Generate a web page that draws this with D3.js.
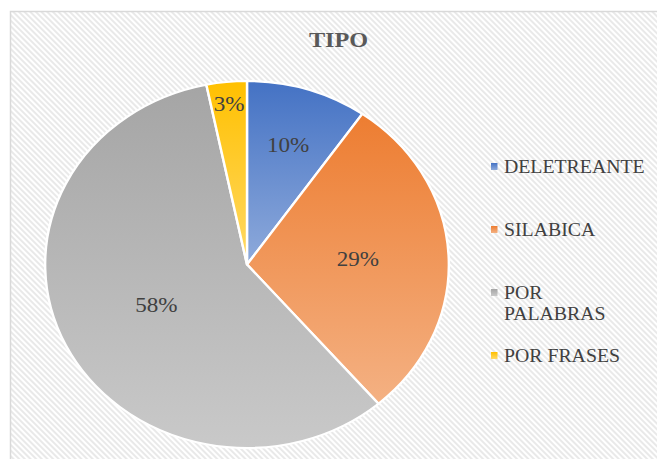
<!DOCTYPE html>
<html>
<head>
<meta charset="utf-8">
<script src="https://cdn.jsdelivr.net/npm/d3@7"></script>
<style>
  body { margin: 0; background: #fff; }
  svg { display: block; }
  text { font-family: "Liberation Serif", "Tinos", "Times New Roman", "DejaVu Serif", serif; }
</style>
</head>
<body>
<div id="chart"></div>
<script>
'use strict';

/**** DATA ****/
var chartTitle = "TIPO";
var categories = ["DELETREANTE", "SILABICA", "POR PALABRAS", "POR FRASES"];
var legendLines = [["DELETREANTE"], ["SILABICA"], ["POR", "PALABRAS"], ["POR FRASES"]];
var counts = [3, 9, 18, 1];
var topColors = ["#4472c4", "#ed7d31", "#a5a5a5", "#ffc000"];
var bottomColors = ["#8eaadb", "#f4b183", "#c9c9c9", "#ffd966"];

/**** LAYOUT ****/
var width = 657, height = 459;
var sx = 1.1; // the picture is stretched sideways
var cx = 247 / sx, cy = 264.5, radius = 183.5;
var labelRatio = [0.68, 0.55, 0.5, 0.88]; // where excel put the labels
var legendY = [173, 236, 299, 362];

var svg = d3.select("#chart").append("svg")
  .attr("width", width)
  .attr("height", height);

var defs = svg.append("defs");

// diagonal stripes behind the chart
var pattern = defs.append("pattern")
  .attr("id", "stripes")
  .attr("patternUnits", "userSpaceOnUse")
  .attr("width", 4)
  .attr("height", 4)
  .attr("patternTransform", "rotate(-45)");
pattern.append("rect").attr("width", 4).attr("height", 4).attr("fill", "#ffffff");
pattern.append("rect").attr("width", 2).attr("height", 4).attr("fill", "#e9e9e9");

// one vertical gradient per slice
categories.forEach(function(c, i) {
  var g = defs.append("linearGradient")
    .attr("id", "grad" + i)
    .attr("x1", 0).attr("y1", 0)
    .attr("x2", 0).attr("y2", 1);
  g.append("stop").attr("offset", "0%").attr("stop-color", topColors[i]);
  g.append("stop").attr("offset", "100%").attr("stop-color", bottomColors[i]);
});

svg.append("rect")
  .attr("x", 10.5)
  .attr("y", 11.5)
  .attr("width", width + 20)
  .attr("height", height + 20)
  .attr("fill", "url(#stripes)")
  .attr("stroke", "#d9d9d9")
  .attr("stroke-width", 1.5);

var root = svg.append("g")
  .attr("transform", "scale(" + sx + ",1)");

// title
root.append("text")
  .attr("x", 338.5 / sx)
  .attr("y", 47)
  .attr("text-anchor", "middle")
  .style("font-weight", "bold")
  .style("font-size", "22px")
  .style("fill", "#595959")
  .text(chartTitle);

/**** PIE ****/
var total = d3.sum(counts);
var pie = d3.pie().sort(null).value(function(d) { return d; });
var arcs = pie(counts);
var arc = d3.arc().innerRadius(0).outerRadius(radius);

var pieG = root.append("g")
  .attr("transform", "translate(" + cx + "," + cy + ")");

pieG.selectAll("path")
  .data(arcs)
  .enter().append("path")
  .attr("d", arc)
  .attr("fill", function(d, i) { return "url(#grad" + i + ")"; })
  .attr("stroke", "#ffffff")
  .attr("stroke-width", 2.2)
  .attr("stroke-linejoin", "round");

pieG.selectAll("text")
  .data(arcs)
  .enter().append("text")
  .attr("transform", function(d, i) {
    var r = radius * labelRatio[i];
    var p = d3.arc().innerRadius(r).outerRadius(r).centroid(d);
    return "translate(" + p[0] + "," + (p[1] + 7) + ")";
  })
  .attr("text-anchor", "middle")
  .style("font-size", "21px")
  .style("fill", "#404040")
  .text(function(d) { return Math.round(d.value / total * 100) + "%"; });

/**** LEGEND ****/
var legend = root.append("g");
var items = legend.selectAll("g")
  .data(categories)
  .enter().append("g")
  .attr("transform", function(d, i) { return "translate(0," + legendY[i] + ")"; });

items.append("rect")
  .attr("x", 491 / sx)
  .attr("y", -10)
  .attr("width", 6.5 / sx)
  .attr("height", 7)
  .attr("fill", function(d, i) { return "url(#grad" + i + ")"; });

items.append("text")
  .attr("x", 504 / sx)
  .attr("y", 0)
  .style("font-size", "18px")
  .style("fill", "#404040")
  .selectAll("tspan")
  .data(function(d, i) { return legendLines[i]; })
  .enter().append("tspan")
  .attr("x", 504 / sx)
  .attr("dy", function(d, j) { return j === 0 ? 0 : 21; })
  .text(function(d) { return d; });
</script>
</body>
</html>
